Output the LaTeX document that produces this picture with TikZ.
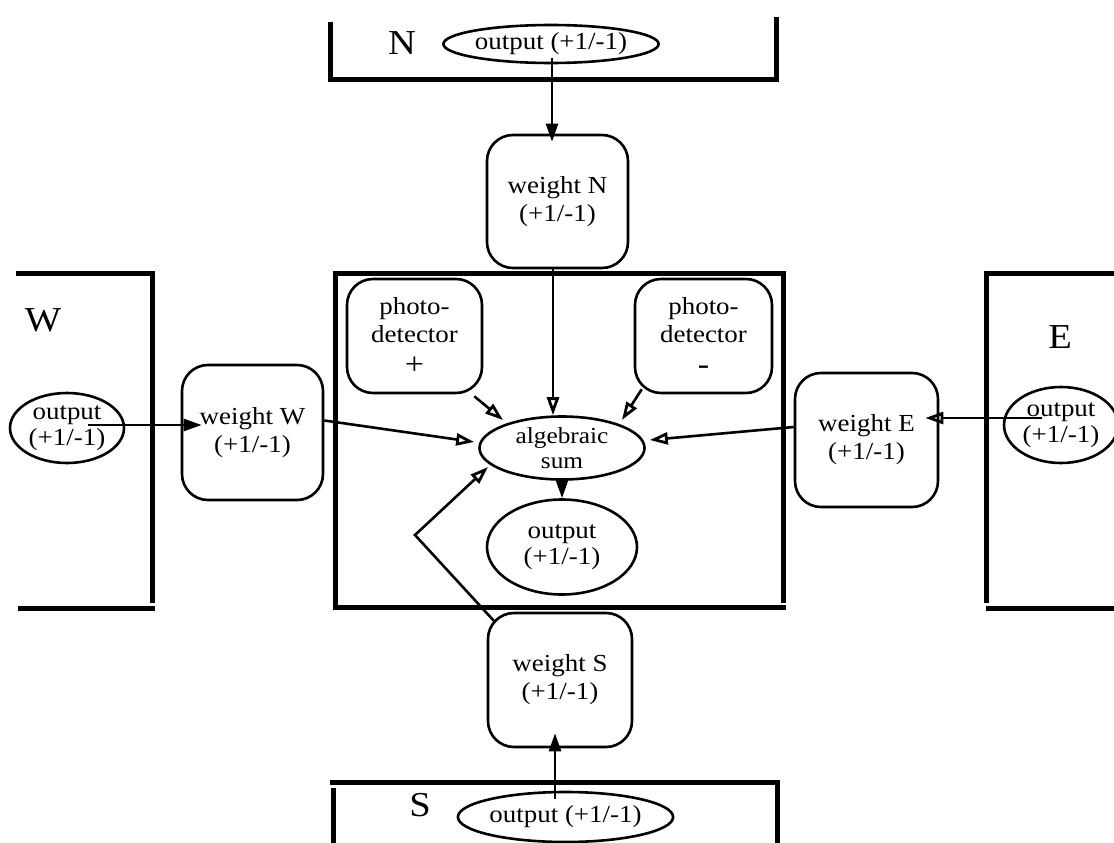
\documentclass[tikz,border=0pt]{standalone}
\usepackage{fontspec}
\setmainfont{Liberation Serif}[FakeStretch=1.1]
\usetikzlibrary{arrows.meta,calc,shapes.geometric}
\begin{document}
\begin{tikzpicture}[x=1pt,y=-1pt,
  frame/.style={line width=5pt,line cap=rect},
  wbox/.style={draw,line width=2.6pt,rounded corners=26pt,align=center,font=\fontsize{24.5}{28}\selectfont,inner sep=0pt},
  oval/.style={draw,ellipse,line width=2.6pt,align=center,inner sep=0pt,font=\fontsize{24.5}{26}\selectfont},
  lab/.style={font=\fontsize{35}{35}\selectfont},
  con/.style={line width=2.6pt},
  arrO/.style={con,-{Triangle[open,length=18pt,width=12pt,line width=2.8pt]}},
  arrF/.style={con,-{Triangle[length=18pt,width=12pt]}}
]
\useasboundingbox (0,0) rectangle (1114,843);
% frames
\draw[frame] (330,25) -- (330,80) -- (776,80) -- (776,20);
\draw[frame] (18,273) -- (152,273) -- (152,600);
\draw[frame] (20,608) -- (152,608);
\draw[frame] (1114,273) -- (986,273) -- (986,600);
\draw[frame] (988,608) -- (1114,608);
\draw[frame] (335,273) -- (783,273) -- (783,600);
\draw[frame] (335,273) -- (335,607) -- (783,607);
\draw[frame] (333,843) -- (333,790);
\draw[frame] (332,782) -- (777,782) -- (777,843);
% labels
\node[lab] (lN) at (402,43) {N};
\node[lab] (lW) at (43,320) {W};
\node[lab] (lE) at (1060,337) {E};
\node[lab] (lS) at (420,805) {S};
% outer outputs
\node[oval,minimum width=182pt,minimum height=38pt] (nout) at (551,44) {output (+1/-1)};
\node[oval,minimum width=185pt,minimum height=50pt] (sout) at (565.5,817) {\raisebox{-6pt}{output (+1/-1)}};
\node[oval,minimum width=114pt,minimum height=70pt] (wout) at (67,428) {output\\(+1/-1)};
\node[oval,minimum width=114pt,minimum height=76pt] (eout) at (1061,425) {output\\(+1/-1)};
% weight boxes
\node[wbox,minimum width=141pt,minimum height=133pt] (wN) at (557.5,201.5) {weight N\\(+1/-1)};
\node[wbox,minimum width=141pt,minimum height=135pt] (wW) at (252.5,432.5) {weight W\\(+1/-1)};
\node[wbox,minimum width=143pt,minimum height=134pt] (wE) at (866.5,440) {weight E\\(+1/-1)};
\node[wbox,minimum width=144pt,minimum height=134pt] (wS) at (560,680) {weight S\\(+1/-1)};
% photodetectors
\node[wbox,minimum width=135pt,minimum height=114pt] (pp) at (414.5,336) {photo-\\detector\\[4pt]{\fontsize{31}{31}\selectfont +}};
\node[wbox,minimum width=137pt,minimum height=114pt] (pm) at (703.5,336) {photo-\\detector\\[4pt]{\fontsize{31}{31}\selectfont -}};
% sum and output
\node[oval,minimum width=165pt,minimum height=63pt,font=\fontsize{23}{25}\selectfont] (sum) at (562,448) {algebraic\\sum};
\node[oval,minimum width=150pt,minimum height=95pt] (out) at (562,547) {output\\(+1/-1)};
% tips
\coordinate (tW) at ($(sum.west)+(-4,-6)$);
\coordinate (tE) at ($(sum.east)+(4,-8)$);
\coordinate (tP) at ($(sum.center)+(-59,-28)$);
\coordinate (tM) at ($(sum.center)+(60,-28)$);
\coordinate (tS) at ($(sum.center)+(-74,19)$);
\coordinate (bendS) at (415,535);
% connectors
\draw[arrF,shorten >=6pt] ([xshift=1pt,yshift=-14pt]nout.center) -- ([xshift=1pt,yshift=-14pt]nout.center |- wN.north);
\draw[arrO] ([xshift=-4.5pt]wN.south) -- ([xshift=-4.5pt]wN.south |- sum.north);
\draw[arrO] ($(pp.south east)+(-9,2)$) -- (tP);
\draw[arrO] ($(pm.south west)+(8,-5)$) -- (tM);
\draw[arrO] ([yshift=12pt]wW.east) -- (tW);
\draw[arrO] ([yshift=13pt]wE.west) -- (tE);
\draw[arrO] ($(wS.north west)+(8,10)$) -- (bendS) -- (tS);
\draw[arrF] (sum.south) -- (out.north);
\draw[arrF] ([xshift=21pt,yshift=3pt]wout.center) -- ([xshift=21pt,yshift=3pt]wout.center -| wW.west);
\draw[arrO,shorten >=5pt] ([xshift=-19pt,yshift=7pt]eout.center) -- ([xshift=-19pt,yshift=7pt]eout.center -| wE.east);
\draw[arrF,shorten >=3pt] ([xshift=-10.5pt,yshift=18pt]sout.center) -- ([xshift=-10.5pt,yshift=18pt]sout.center |- wS.south);
\end{tikzpicture}
\end{document}
